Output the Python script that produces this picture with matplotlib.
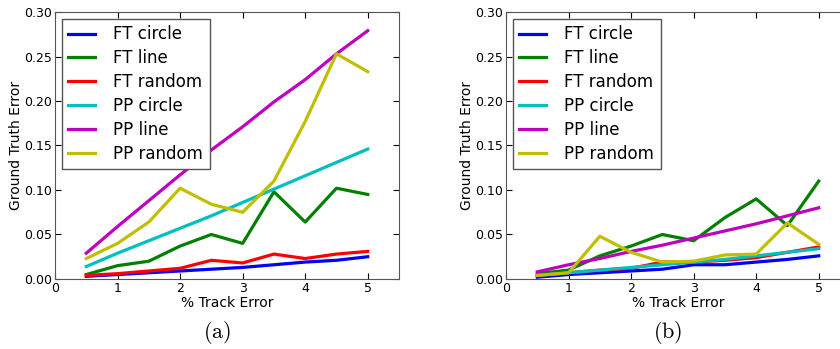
import matplotlib
matplotlib.use("Agg")
import matplotlib.pyplot as plt

plt.rcParams['mathtext.fontset'] = 'cm'

x = [0.5, 1, 1.5, 2, 2.5, 3, 3.5, 4, 4.5, 5]
labels = ['FT circle', 'FT line', 'FT random', 'PP circle', 'PP line', 'PP random']
colors = ['#0000ff', '#008000', '#ff0000', '#00bfbf', '#bf00bf', '#bfbf00']

# panel (a)
a_ft_circle = [0.003, 0.005, 0.007, 0.009, 0.011, 0.013, 0.016, 0.019, 0.021, 0.025]
a_ft_line = [0.005, 0.015, 0.020, 0.037, 0.050, 0.040, 0.098, 0.064, 0.102, 0.095]
a_ft_random = [0.004, 0.006, 0.009, 0.012, 0.021, 0.018, 0.028, 0.023, 0.028, 0.031]
a_pp_circle = [0.014, 0.029, 0.043, 0.057, 0.071, 0.086, 0.101, 0.116, 0.131, 0.146]
a_pp_line = [0.029, 0.059, 0.088, 0.117, 0.145, 0.171, 0.199, 0.224, 0.253, 0.279]
a_pp_random = [0.023, 0.040, 0.064, 0.102, 0.084, 0.075, 0.110, 0.177, 0.253, 0.233]

# panel (b)
b_ft_circle = [0.002, 0.005, 0.007, 0.009, 0.011, 0.016, 0.016, 0.019, 0.022, 0.026]
b_ft_line = [0.006, 0.010, 0.026, 0.037, 0.050, 0.043, 0.069, 0.090, 0.060, 0.110]
b_ft_random = [0.004, 0.007, 0.010, 0.012, 0.019, 0.019, 0.021, 0.024, 0.030, 0.036]
b_pp_circle = [0.004, 0.007, 0.010, 0.013, 0.016, 0.019, 0.022, 0.026, 0.030, 0.034]
b_pp_line = [0.008, 0.016, 0.023, 0.031, 0.038, 0.046, 0.054, 0.062, 0.071, 0.080]
b_pp_random = [0.004, 0.007, 0.048, 0.030, 0.019, 0.020, 0.027, 0.028, 0.063, 0.039]

panels = [
    ([a_ft_circle, a_ft_line, a_ft_random, a_pp_circle, a_pp_line, a_pp_random], '(a)', 0.0655),
    ([b_ft_circle, b_ft_line, b_ft_random, b_pp_circle, b_pp_line, b_pp_random], '(b)', 0.6024),
]

fig = plt.figure(figsize=(8.4, 3.49), dpi=100)

for series, tag, left in panels:
    # panel (b) runs past the right edge of the figure, as in the original
    ax = fig.add_axes([left, 0.2006, 0.4095, 0.765])
    for ys, lab, col in zip(series, labels, colors):
        ax.plot(x, ys, color=col, lw=2.3, label=lab)
    ax.set_xlim(0, 5.5)
    ax.set_ylim(0, 0.30)
    ax.set_xticks([0, 1, 2, 3, 4, 5])
    ax.set_yticks([0, 0.05, 0.10, 0.15, 0.20, 0.25, 0.30])
    ax.set_yticklabels(['%.2f' % v for v in ax.get_yticks()])
    ax.tick_params(direction='in', top=True, right=True, labelsize=9, length=4, pad=2)
    for s in ax.spines.values():
        s.set_color('#555555')
    ax.set_xlabel('% Track Error', fontsize=10, labelpad=1)
    ax.set_ylabel('Ground Truth Error', fontsize=10, labelpad=1)
    leg = ax.legend(loc='upper left', fontsize=12, handlelength=1.6, handletextpad=1.1,
                    labelspacing=0.35, borderpad=0.4, fancybox=False, framealpha=1,
                    borderaxespad=0.4)
    leg.get_frame().set_edgecolor('#555555')
    fig.text(left + 0.1925, 0.046, r'$\mathrm{%s}$' % tag,
             ha='center', va='center', fontsize=16)

fig.savefig('out.png', dpi=100)
